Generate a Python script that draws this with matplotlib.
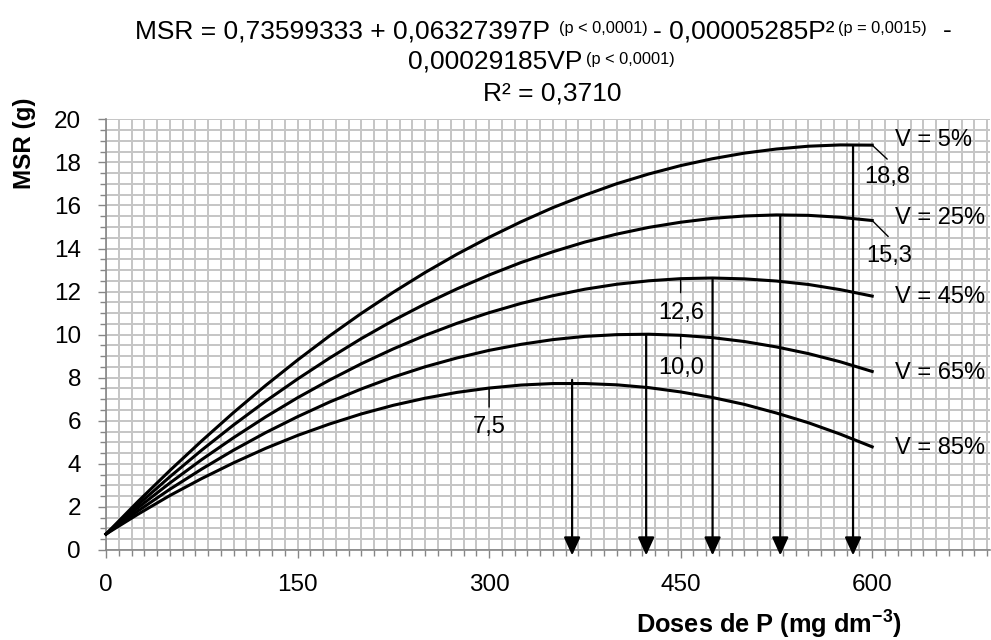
import matplotlib
matplotlib.use("Agg")
import matplotlib.pyplot as plt
from matplotlib.ticker import MultipleLocator, FixedLocator

plt.rcParams['font.family'] = ['Liberation Sans', 'DejaVu Sans']
plt.rcParams['mathtext.fontset'] = 'custom'
plt.rcParams['mathtext.rm'] = 'Liberation Sans'
plt.rcParams['mathtext.it'] = 'Liberation Sans:italic'
plt.rcParams['mathtext.bf'] = 'Liberation Sans:bold'
plt.rcParams['mathtext.default'] = 'regular'

# ---------------- data ----------------
doses = [0, 25, 50, 75, 100, 125, 150, 175, 200, 225, 250, 275, 300,
         325, 350, 375, 400, 425, 450, 475, 500, 525, 550, 575, 600]
v_levels = [5, 25, 45, 65, 85]
msr_v5 = [0.74, 2.25, 3.69, 5.07, 6.39, 7.64, 8.82, 9.94, 10.99, 11.97, 12.89, 13.74, 14.52,
          15.24, 15.90, 16.48, 17.01, 17.46, 17.85, 18.17, 18.43, 18.62, 18.75, 18.81, 18.80]
msr_v25 = [0.74, 2.10, 3.40, 4.64, 5.81, 6.91, 7.94, 8.91, 9.82, 10.66, 11.43, 12.13, 12.77,
           13.35, 13.85, 14.30, 14.67, 14.98, 15.22, 15.40, 15.51, 15.56, 15.54, 15.45, 15.30]
msr_v45 = [0.74, 1.96, 3.11, 4.20, 5.22, 6.18, 7.07, 7.89, 8.65, 9.34, 9.97, 10.53, 11.02,
           11.45, 11.81, 12.11, 12.34, 12.50, 12.60, 12.63, 12.59, 12.49, 12.33, 12.09, 11.79]
msr_v65 = [0.74, 1.81, 2.82, 3.76, 4.64, 5.45, 6.19, 6.87, 7.48, 8.03, 8.51, 8.92, 9.27,
           9.55, 9.77, 9.92, 10.00, 10.02, 9.97, 9.86, 9.68, 9.43, 9.12, 8.74, 8.29]
msr_v85 = [0.74, 1.66, 2.53, 3.32, 4.05, 4.72, 5.32, 5.85, 6.32, 6.72, 7.05, 7.32, 7.52,
           7.66, 7.73, 7.73, 7.67, 7.54, 7.34, 7.08, 6.76, 6.36, 5.91, 5.38, 4.79]
series = [msr_v5, msr_v25, msr_v45, msr_v65, msr_v85]

# doses of maximum yield (arrows) and the value where each arrow starts
max_doses = [585, 528, 475, 423, 365]
max_msr = [18.75, 15.50, 12.60, 10.00, 7.90]

# labelled data points: (series index, dose)
labelled_points = [(0, 600), (1, 600), (2, 450), (3, 450), (4, 300)]

x_ticks = [0, 150, 300, 450, 600]
y_ticks = [0, 2, 4, 6, 8, 10, 12, 14, 16, 18, 20]

# title pieces: (text, is_superscript)
title_line1 = [("MSR = 0,73599333 + 0,06327397P", False), ("(p < 0,0001)", True),
               ("- 0,00005285P²", False), ("(p = 0,0015)", True), ("-", False)]
title_line2 = [("0,00029185VP", False), ("(p < 0,0001)", True)]
title_line3 = [("R² = 0,3710", False)]

# ---------------- figure ----------------
W, H = 991, 640
fig = plt.figure(figsize=(W / 100, H / 100), dpi=100)
ax_left, ax_right, ax_bottom, ax_top = 106, 990, 550, 119.3
ax = fig.add_axes([ax_left / W, 1 - ax_bottom / H,
                   (ax_right - ax_left) / W, (ax_bottom - ax_top) / H])
ax.set_xlim(0, (ax_right - ax_left) / 1.277)
ax.set_ylim(0, 20)

grid_grey = '#c6c6c6'
axis_grey = '#868686'
ax.xaxis.set_major_locator(FixedLocator(x_ticks))
ax.xaxis.set_minor_locator(MultipleLocator(10))
ax.yaxis.set_major_locator(FixedLocator(y_ticks))
ax.yaxis.set_minor_locator(MultipleLocator(0.5))
ax.grid(True, which='both', color=grid_grey, lw=1.44, zorder=0, snap=True)
ax.set_axisbelow(True)
ax.set_xticklabels([str(t) for t in x_ticks])
ax.set_yticklabels([str(t) for t in y_ticks])
ax.tick_params(axis='both', which='major', direction='out', length=5.5, width=1,
               color=axis_grey, labelsize=17.5, labelcolor='black')
ax.tick_params(axis='both', which='minor', direction='out', length=4.2, width=1,
               color=axis_grey)
ax.tick_params(axis='y', which='major', pad=12.5)
ax.tick_params(axis='x', which='major', pad=11.5)
for side in ('top', 'right'):
    ax.spines[side].set_visible(False)
for side in ('left', 'bottom'):
    ax.spines[side].set_color(axis_grey)
    ax.spines[side].set_linewidth(1.2)

for s in series:
    ax.plot(doses, s, color='black', lw=2.2, zorder=3, clip_on=False,
            solid_joinstyle='round')

# arrows at the maximum
for xd, top in zip(max_doses, max_msr):
    ax.annotate('', xy=(xd, -0.25), xytext=(xd, top),
                arrowprops=dict(arrowstyle='-|>,head_length=1.1,head_width=0.5',
                                color='black', lw=1.6, shrinkA=0, shrinkB=0),
                annotation_clip=False, zorder=4)

# curve names
name_dy = [5, 3, -1, -2, -1]
for v, s, dy in zip(v_levels, series, name_dy):
    ax.annotate(f"V = {v}%", xy=(doses[-1], s[-1]), xytext=(23, dy),
                textcoords='offset pixels', ha='left', va='center', fontsize=17,
                annotation_clip=False)

# data labels with leader lines
leader_end = [(15, -14), (16, -16), (0, -14), (0, -13), (0, -19)]
label_pos = [(15, -32), (17, -35), (1, -34), (1, -33), (0, -39)]
for (si, d), (lx, ly), (tx, ty) in zip(labelled_points, leader_end, label_pos):
    val = series[si][doses.index(d)]
    ax.annotate('', xy=(d, val), xytext=(lx, ly), textcoords='offset pixels',
                arrowprops=dict(arrowstyle='-', color='black', lw=1.0,
                                shrinkA=0, shrinkB=0), zorder=4)
    ax.annotate(f"{val:.1f}".replace('.', ','), xy=(d, val), xytext=(tx, ty),
                textcoords='offset pixels', ha='center', va='center', fontsize=17,
                zorder=5)

# title, composed piece by piece (left edges / baselines in pixels)
main_size, sup_size, sup_raise = 19.0, 11.8, 5
title_layout = [
    (title_line1, [135, 559, 653, 838, 943], 38),
    (title_line2, [408, 586], 69),
    (title_line3, [483], 100),
]
for pieces, lefts, base in title_layout:
    for (txt, sup), xl in zip(pieces, lefts):
        fig.text(xl / W, 1 - (base - (sup_raise if sup else 0)) / H, txt,
                 ha='left', va='baseline',
                 fontsize=sup_size if sup else main_size)

fig.text(24 / W, 1 - 143 / H, "MSR (g)", rotation=90, fontweight='bold',
         fontsize=17.5, ha='center', va='center')
fig.text(769 / W, 1 - 634 / H, r"Doses de P (mg dm$^{-3}$)", fontweight='bold',
         fontsize=18.3, ha='center', va='baseline')

fig.savefig('out.png', dpi=100)
